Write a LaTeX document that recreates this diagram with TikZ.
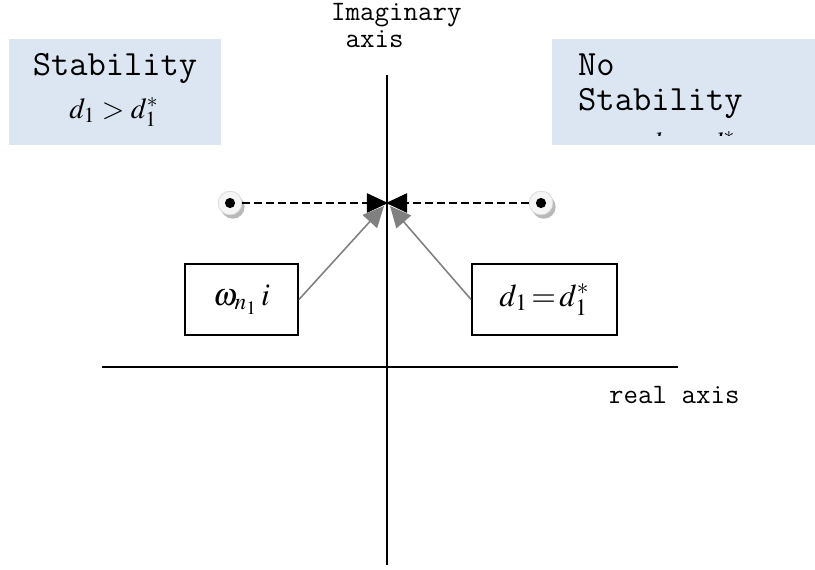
\documentclass[tikz,border=0pt]{standalone}
\usepackage{mathptmx}
\usepackage[no-math]{fontspec}
\usetikzlibrary{arrows.meta,shadows}

\definecolor{boxblue}{RGB}{220,230,242}
\tikzset{
  axisline/.style={line width=1.1pt},
  polepath/.style={line width=0.9pt, dash pattern=on 4.5pt off 2.3pt, -{Triangle[length=12pt,width=11pt]}},
  pointer/.style={gray, line width=0.9pt, -{Triangle[length=12pt,width=11pt]}},
  labelbox/.style={draw, line width=1.1pt, inner sep=0pt},
  bluebox/.style={fill=boxblue, inner sep=0pt},
  pole/.style={circle, fill=gray!8, draw=gray!30, line width=0.4pt, minimum size=13.5pt, inner sep=0pt,
    drop shadow={shadow xshift=1.6pt, shadow yshift=-2.2pt, fill=gray!55, opacity=1}},
  bigmono/.style={font=\ttfamily\fontsize{20.2}{24}\selectfont},
  smallmono/.style={font=\ttfamily\fontsize{16}{19}\selectfont},
}

\begin{document}
\begin{tikzpicture}[x=0.02cm, y=-0.02cm]
  \useasboundingbox (0,0) rectangle (815,569);

  % Axes
  \draw[axisline] (387,75) -- (387,565);
  \draw[axisline] (102,367) -- (678,367);
  \node[smallmono, anchor=base west] (imag) at (325,20) {Imaginary};
  \node[smallmono, anchor=base west] (imag2) at (325,47) {~axis};
  \node[smallmono, anchor=base west] (real) at (603,403) {real axis};

  % Stable side
  \node[bluebox, minimum width=120.6pt, minimum height=60.3pt] (stab) at (115,92) {};
  \node[bigmono, anchor=base] (stabtxt) at (115,75) {Stability};
  \node[anchor=base, font=\fontsize{16.5}{19}\selectfont] (stabeq) at (114,118) {$d_1>d_1^{*}$};

  % Unstable side (text cut off at the bottom)
  \node[bluebox, minimum width=149.6pt, minimum height=60.3pt] (nostab) at (683.5,92) {};
  \node[bigmono, anchor=base west] (nostabtxt) at (572,75) {No};
  \node[bigmono, anchor=base west] (nostabtxt2) at (572,110) {Stability};
  \begin{scope}
    \clip (552,39) rectangle (815,135);
    \node[anchor=base west, font=\fontsize{16.5}{19}\selectfont] (nostabeq) at (640,152) {$d_1<d_1^{*}$};
  \end{scope}

  % Poles moving onto the axis
  \coordinate (meet) at (388,203);
  \node[pole] (pl) at (230,203) {};
  \node[pole] (pr) at (541,203) {};
  \fill (pl) circle (2.9pt);
  \fill (pr) circle (2.9pt);
  \draw[polepath] (pl.east) -- (meet);
  \draw[polepath] (pr.west) -- (386,203);

  % Crossing labels
  \node[labelbox, minimum width=64.3pt, minimum height=40.4pt, font=\fontsize{18}{21}\selectfont] (omega) at (241.5,299.5) {$\omega_{n_1}\mkern2mu i$};
  \node[labelbox, minimum width=82.5pt, minimum height=40.4pt, font=\fontsize{18}{21}\selectfont] (dstar) at (544.5,299.5) {$d_1\mkern2mu{=}\mkern2mu d_1^{*}$};
  \draw[pointer] (omega.east) -- (384,206);
  \draw[pointer] (dstar.west) -- (390,206);
\end{tikzpicture}
\end{document}
